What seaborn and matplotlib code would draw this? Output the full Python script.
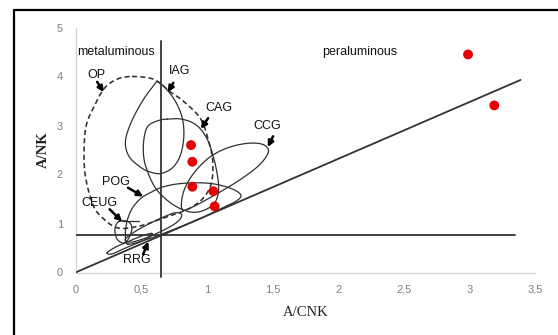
import numpy as np
import pandas as pd
import matplotlib
matplotlib.use("Agg")
import matplotlib.pyplot as plt
from matplotlib.lines import Line2D
from matplotlib.ticker import FixedLocator, FuncFormatter
import seaborn as sns

# ---- sample data (A/CNK, A/NK) ----
a_cnk = [2.99, 3.19, 0.88, 0.89, 0.89, 1.05, 1.06]
a_nk = [4.45, 3.41, 2.60, 2.26, 1.75, 1.66, 1.35]

# ---- discrimination boundaries ----
acnk_split = 0.65          # metaluminous / peraluminous
ank_split = 0.76           # horizontal boundary
diag_end = (3.39, 3.93)    # diagonal from the origin
hline_end = 3.35
vline_span = (-0.09, 4.73)

# ---- granite-type fields (outline control points, A/CNK vs A/NK) ----
field_OP = [(0.43, 4.00), (0.56, 3.97), (0.63, 3.89), (0.72, 3.69), (0.82, 3.50),
            (0.95, 3.15), (1.01, 2.72), (1.045, 2.30), (1.035, 1.82), (0.97, 1.51),
            (0.87, 1.31), (0.79, 1.22), (0.68, 1.12), (0.52, 0.97), (0.38, 0.90),
            (0.30, 0.93), (0.22, 1.08), (0.14, 1.34), (0.08, 1.89), (0.065, 2.40),
            (0.08, 2.98), (0.14, 3.38), (0.22, 3.76), (0.32, 3.95)]
field_IAG = [(0.63, 3.89), (0.70, 3.72), (0.77, 3.45), (0.815, 3.13), (0.825, 2.77),
             (0.80, 2.40), (0.74, 2.14), (0.65, 2.02), (0.57, 2.05), (0.50, 2.14),
             (0.41, 2.36), (0.38, 2.66), (0.42, 3.04), (0.51, 3.50), (0.60, 3.83)]
field_CAG = [(0.70, 3.13), (0.81, 3.13), (0.92, 3.01), (1.00, 2.74), (1.05, 2.36),
             (1.08, 2.00), (1.09, 1.68), (1.06, 1.42), (0.98, 1.27), (0.89, 1.23),
             (0.80, 1.30), (0.70, 1.47), (0.61, 1.72), (0.55, 2.05), (0.52, 2.35),
             (0.52, 2.70), (0.55, 2.98), (0.63, 3.10)]
field_CCG = [(0.81, 1.30), (0.82, 1.62), (0.88, 1.95), (0.98, 2.26), (1.08, 2.45),
             (1.20, 2.58), (1.33, 2.64), (1.43, 2.61), (1.47, 2.47), (1.41, 2.22),
             (1.29, 1.96), (1.15, 1.72), (1.00, 1.49), (0.87, 1.31)]
field_POG = [(0.40, 0.58), (0.55, 0.68), (0.75, 0.88), (0.95, 1.10), (1.12, 1.32),
             (1.22, 1.45), (1.26, 1.58), (1.18, 1.72), (1.02, 1.82), (0.82, 1.82),
             (0.67, 1.75), (0.57, 1.63), (0.50, 1.52), (0.43, 1.30), (0.39, 1.02),
             (0.38, 0.74)]
field_CEUG = [(0.34, 1.05), (0.40, 1.04), (0.43, 0.92), (0.41, 0.72), (0.37, 0.60),
              (0.32, 0.67), (0.30, 0.84), (0.31, 0.98)]
field_RRG = [(0.24, 0.40), (0.30, 0.51), (0.40, 0.63), (0.50, 0.74), (0.58, 0.80),
             (0.57, 0.73), (0.48, 0.61), (0.38, 0.50), (0.28, 0.38)]
field_SG = [(0.38, 0.68), (0.45, 0.83), (0.55, 0.98), (0.66, 1.12), (0.76, 1.22),
            (0.81, 1.17), (0.77, 1.02), (0.66, 0.85), (0.52, 0.69), (0.42, 0.62)]

# field labels: text, label position, arrow tail, arrow head
field_labels = [
    ("OP", (0.16, 4.03), (0.165, 3.89), (0.215, 3.68)),
    ("IAG", (0.79, 4.11), (0.745, 3.87), (0.703, 3.68)),
    ("CAG", (1.09, 3.35), (1.01, 3.15), (0.955, 2.93)),
    ("CCG", (1.46, 2.98), (1.505, 2.78), (1.465, 2.56)),
    ("POG", (0.31, 1.85), (0.40, 1.73), (0.515, 1.55)),
    ("CEUG", (0.18, 1.41), (0.26, 1.29), (0.355, 1.04)),
    ("RRG", (0.47, 0.25), (0.515, 0.37), (0.555, 0.63)),
]

xticks = [0, 0.5, 1, 1.5, 2, 2.5, 3, 3.5]
yticks = [0, 1, 2, 3, 4, 5]

sns.set_style("white")
plt.rcParams["font.family"] = ["Liberation Sans", "DejaVu Sans"]

W, H = 558, 335
fig = plt.figure(figsize=(W / 100, H / 100), dpi=100)
ax = fig.add_axes([75.5 / W, 1 - 272.5 / H, 459.5 / W, 245 / H])

XS = 131.0 / 49.0  # pixel aspect of one x unit versus one y unit


def closed_curve(pts, n=24):
    p = np.asarray(pts, dtype=float).copy()
    p[:, 0] *= XS
    m = len(p)
    t = np.linspace(0, 1, n, endpoint=False)[:, None]
    segs = []
    for i in range(m):
        p0, p1, p2, p3 = p[i - 1], p[i], p[(i + 1) % m], p[(i + 2) % m]
        segs.append(0.5 * (2 * p1 + (-p0 + p2) * t
                           + (2 * p0 - 5 * p1 + 4 * p2 - p3) * t ** 2
                           + (-p0 + 3 * p1 - 3 * p2 + p3) * t ** 3))
    c = np.vstack(segs + [segs[0][:1]])
    c[:, 0] /= XS
    return c[:, 0], c[:, 1]


outline = "#303030"
for pts in [field_IAG, field_CAG, field_CCG, field_POG, field_CEUG, field_RRG, field_SG]:
    cx, cy = closed_curve(pts)
    ax.plot(cx, cy, color=outline, lw=0.9, zorder=2)
cx, cy = closed_curve(field_OP)
ax.plot(cx, cy, color=outline, lw=1.15, ls=(0, (3.2, 2)), zorder=2)
ax.plot([0.355, 0.48], [1.06, 1.06], color=outline, lw=0.9, zorder=2)

# boundary lines
bl = "#333333"
ax.plot([acnk_split, acnk_split], list(vline_span), color=bl, lw=1.3, clip_on=False, zorder=3)
ax.plot([0, hline_end], [ank_split, ank_split], color=bl, lw=1.3, zorder=3)
ax.plot([0, diag_end[0]], [0, diag_end[1]], color=bl, lw=1.3, zorder=3)

# samples
df = pd.DataFrame({"A/CNK": a_cnk, "A/NK": a_nk})
sns.scatterplot(data=df, x="A/CNK", y="A/NK", ax=ax, color="#e60000", s=50,
                edgecolor="none", zorder=5, legend=False)

for name, (tx, ty), tail, head in field_labels:
    ax.text(tx, ty, name, ha="center", va="center", fontsize=9, color="#111111", zorder=6)
    ax.annotate("", xy=head, xytext=tail,
                arrowprops=dict(arrowstyle="-|>", color="black", lw=1.8,
                                mutation_scale=8.5, shrinkA=0, shrinkB=0),
                zorder=6)

ax.text(0.01, 4.5, "metaluminous", ha="left", va="center", fontsize=9, color="#111111")
ax.text(1.88, 4.49, "peraluminous", ha="left", va="center", fontsize=9, color="#111111")

ax.set_xlim(0, 3.5)
ax.set_ylim(0, 5)
ax.xaxis.set_major_locator(FixedLocator(xticks))
ax.yaxis.set_major_locator(FixedLocator(yticks))
fmt = FuncFormatter(lambda v, _: ("%g" % v).replace(".", ","))
ax.xaxis.set_major_formatter(fmt)
ax.yaxis.set_major_formatter(fmt)
ax.tick_params(axis="both", length=0, pad=9, labelsize=8, labelcolor="#7f7f7f")

for side in ["top", "right"]:
    ax.spines[side].set_visible(False)
for side in ["left", "bottom"]:
    ax.spines[side].set_color("#d4d4d4")
    ax.spines[side].set_linewidth(1.0)

ax.set_xlabel("A/CNK", fontsize=10.5, family=["Liberation Serif", "DejaVu Serif"],
              color="#222222", va="center")
ax.set_ylabel("A/NK", fontsize=10.5, family=["Liberation Serif", "DejaVu Serif"],
              fontweight="bold", color="#222222", va="center")
ax.xaxis.set_label_coords(0.5, (272.5 - 312.5) / 245)
ax.yaxis.set_label_coords((43 - 75.5) / 459.5, 0.5)

# outer frame (top and left edges)
fx0, fy0 = 13.5 / W, 1 - 9.8 / H
fig.add_artist(Line2D([fx0, 1.0], [fy0, fy0], transform=fig.transFigure, color="black", lw=1.6))
fig.add_artist(Line2D([fx0, fx0], [fy0, 0.0], transform=fig.transFigure, color="black", lw=1.6))

fig.savefig("out.png", dpi=100)
